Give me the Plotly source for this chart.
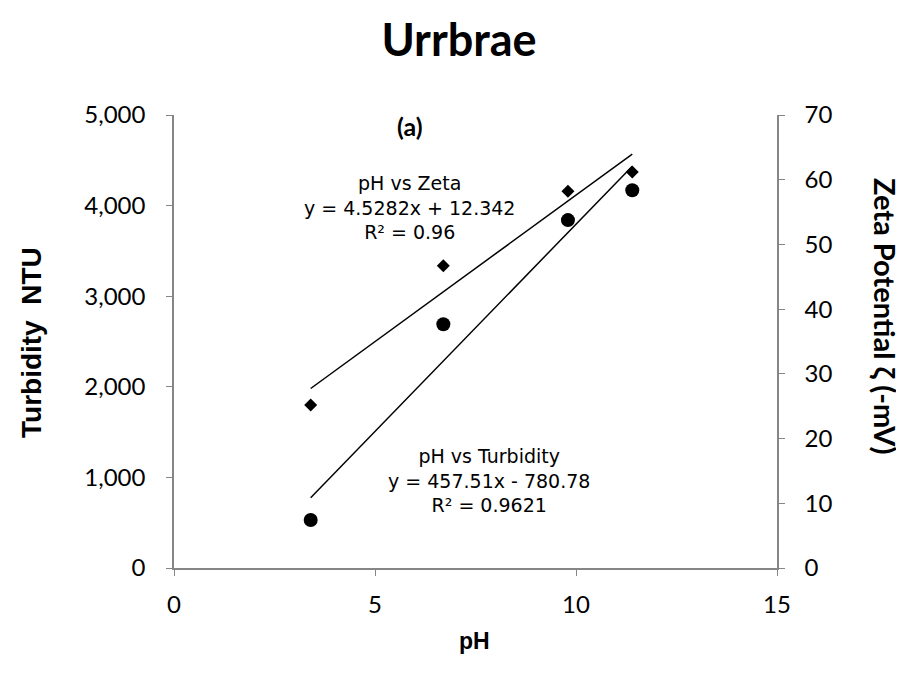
import plotly.graph_objects as go

# ---- data ----
ph = [3.4, 6.7, 9.8, 11.4]
turbidity = [530, 2690, 3840, 4170]          # NTU, left axis
zeta = [25.2, 46.7, 58.2, 61.2]              # -mV, right axis
turb_fit = {"slope": 457.51, "intercept": -780.78, "r2": 0.9621}
zeta_fit = {"slope": 4.5282, "intercept": 12.342, "r2": 0.96}
x_ticks = [0, 5, 10, 15]
y_ticks = [0, 1000, 2000, 3000, 4000, 5000]
y2_ticks = [0, 10, 20, 30, 40, 50, 60, 70]

x_fit = [min(ph), max(ph)]
turb_line = [turb_fit["slope"] * x + turb_fit["intercept"] for x in x_fit]
zeta_line = [zeta_fit["slope"] * x + zeta_fit["intercept"] for x in x_fit]

AX = "#868686"
TICKFONT = dict(family="Lato", size=24, color="#000")
LBL = "Liberation Sans"

# plot area in page pixels: x 174..777, y 115..568
PL, PR, PT, PB = 174, 777, 115, 568


def px(x):
    return (x - PL) / (PR - PL)


def py(y):
    return (PB - y) / (PB - PT)


fig = go.Figure()
fig.add_trace(go.Scatter(x=x_fit, y=turb_line, mode="lines",
                         line=dict(color="#000", width=1.5), showlegend=False))
fig.add_trace(go.Scatter(x=x_fit, y=zeta_line, mode="lines", yaxis="y2",
                         line=dict(color="#000", width=1.5), showlegend=False))
fig.add_trace(go.Scatter(x=ph, y=turbidity, mode="markers",
                         marker=dict(symbol="circle", size=14, color="#000"),
                         showlegend=False))
fig.add_trace(go.Scatter(x=ph, y=zeta, mode="markers", yaxis="y2",
                         marker=dict(symbol="diamond", size=10, color="#000"),
                         showlegend=False))

# page body has an 8px margin
fig.update_layout(
    width=904, height=677,
    paper_bgcolor="white", plot_bgcolor="white",
    margin=dict(l=PL - 8, r=904 - (PR - 8), t=PT - 8, b=677 - (PB - 8)),
    title=dict(text="<b>Urrbrae</b>", x=(459 - 8) / 904, xanchor="center",
               y=1 - 32 / 677, yanchor="middle", yref="container",
               font=dict(family="Lato", size=45, color="#000")),
    xaxis=dict(range=[0, 15], tickvals=x_ticks, showgrid=False, zeroline=False,
               showline=True, linecolor=AX, linewidth=1.5, ticks="outside",
               ticklen=6, tickcolor=AX, tickfont=TICKFONT, ticklabelstandoff=8),
    yaxis=dict(range=[0, 5000], tickvals=y_ticks, tickformat=",", showgrid=False,
               zeroline=False, showline=True, linecolor=AX, linewidth=1.5,
               ticks="outside", ticklen=6, tickcolor=AX, tickfont=TICKFONT,
               ticklabelstandoff=16),
    yaxis2=dict(range=[0, 70], tickvals=y2_ticks, overlaying="y", side="right",
                showgrid=False, zeroline=False, showline=True, linecolor=AX,
                linewidth=1.5, ticks="outside", ticklen=6, tickcolor=AX,
                tickfont=TICKFONT, ticklabelstandoff=15),
)


def txt(text, x, y, size, family=LBL, angle=0):
    return dict(text=text, xref="paper", yref="paper", x=px(x), y=py(y),
                xanchor="center", yanchor="middle", textangle=angle,
                showarrow=False, align="center",
                font=dict(family=family, size=size, color="#000"))


zeta_label = "pH vs Zeta<br>y = %.4fx + %.3f<br>R² = %.2f" % (
    zeta_fit["slope"], zeta_fit["intercept"], zeta_fit["r2"])
turb_label = "pH vs Turbidity<br>y = %.2fx - %.2f<br>R² = %.4f" % (
    turb_fit["slope"], -turb_fit["intercept"], turb_fit["r2"])

ann = [
    txt("<b>Turbidity  NTU</b>", 31, 343, 28, angle=-90),
    txt("<b>Zeta Potential ζ (-mV)</b>", 886, 316, 29, family="Lato", angle=90),
    txt("<b>pH</b>", 474, 641, 23),
    txt("<b>(a)</b>", 410, 126, 25, family="Lato"),
    txt(zeta_label, 409, 207, 19, family="DejaVu Sans"),
    txt(turb_label, 489, 480, 19, family="DejaVu Sans"),
]
fig.update_layout(annotations=ann)

fig.write_html("out.html")
